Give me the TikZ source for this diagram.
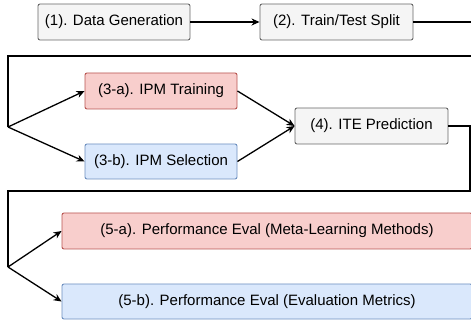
\documentclass[tikz,border=0pt]{standalone}
\usepackage{fontspec}
\setmainfont{Liberation Sans}
\usetikzlibrary{arrows.meta}
\definecolor{grayfill}{HTML}{F5F5F5}
\definecolor{grayline}{HTML}{666666}
\definecolor{redfill}{HTML}{F8CECC}
\definecolor{redline}{HTML}{B85450}
\definecolor{bluefill}{HTML}{DAE8FC}
\definecolor{blueline}{HTML}{6C8EBF}
\tikzset{
  stage/.style={rectangle, rounded corners=2pt, line width=0.9pt,
    minimum height=36pt, inner sep=0pt, font=\fontsize{15}{18}\selectfont,
    text=black},
  graystage/.style={stage, fill=grayfill, draw=grayline},
  redstage/.style={stage, fill=redfill, draw=redline},
  bluestage/.style={stage, fill=bluefill, draw=blueline},
  flow/.style={line width=1.3pt, black},
  flowarrow/.style={flow, -{Stealth[length=8pt, width=7pt, inset=2.5pt]}}
}
\begin{document}
\begin{tikzpicture}[x=1pt, y=-1pt]
  \useasboundingbox (0,0) rectangle (471,320);
  \clip (0,0) rectangle (471,320);

  % first row
  \node[graystage, minimum width=152pt] (gen) at (114,22) {(1). Data Generation};
  \node[graystage, minimum width=153pt] (split) at (336.5,22) {(2). Train/Test Split};

  % second row
  \node[redstage, minimum width=152pt] (train) at (161,91) {(3-a). IPM Training};
  \node[bluestage, minimum width=152pt, minimum height=35pt] (select) at (161,161.5) {(3-b). IPM Selection};
  \node[graystage, minimum width=153pt] (ite) at (371.5,126) {(4). ITE Prediction};

  % third row
  \node[redstage, minimum width=410pt] (evalmeta) at (267,231) {(5-a). Performance Eval (Meta-Learning Methods)};
  \node[bluestage, minimum width=410pt, minimum height=35pt] (evalmetric) at (267,301.5) {(5-b). Performance Eval (Evaluation Metrics)};

  % routing points
  \coordinate (rowoneout) at (480,22);
  \coordinate (rowtwoin) at (480,56);
  \coordinate (rowtwocorner) at (8,56);
  \coordinate (forkone) at (8,127);
  \coordinate (iteturn) at (470,126);
  \coordinate (itedown) at (470,191);
  \coordinate (rowthreecorner) at (8,191);
  \coordinate (forktwo) at (8,267);

  % connectors
  \draw[flowarrow] (gen.east) -- (split.west);
  \draw[flow] (split.east) -- (rowoneout);
  \draw[flow] (rowtwoin) -- (rowtwocorner) -- (forkone);
  \draw[flowarrow] (forkone) -- (train.west);
  \draw[flowarrow] (forkone) -- (select.west);
  \draw[flowarrow] (train.east) -- (ite.west);
  \draw[flowarrow] (select.east) -- (ite.west);
  \draw[flow] (ite.east) -- (iteturn) -- (itedown) -- (rowthreecorner) -- (forktwo);
  \draw[flowarrow] (forktwo) -- (evalmeta.west);
  \draw[flowarrow] (forktwo) -- (evalmetric.west);
\end{tikzpicture}
\end{document}
